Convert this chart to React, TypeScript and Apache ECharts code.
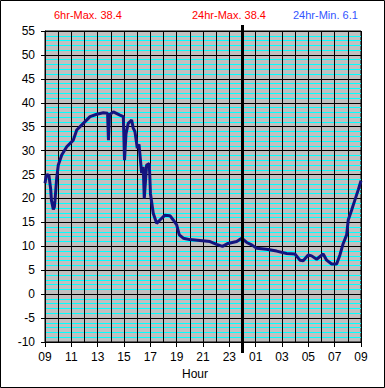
import React, { useEffect, useRef } from "react";
import * as echarts from "echarts";

// hours since 09:00
const hours = [
  0.0, 0.08, 0.17, 0.3, 0.43, 0.49, 0.63, 0.71, 0.76, 0.89, 1.01, 1.27, 1.65, 2.15, 2.41, 2.91,
  3.42, 3.93, 4.43, 4.75, 4.82, 4.9, 5.19, 5.69, 5.95, 6.04, 6.15, 6.32, 6.58, 6.7, 6.83, 7.01,
  7.14, 7.34, 7.46, 7.54, 7.72, 7.92, 8.01, 8.22, 8.48, 8.73, 9.11, 9.49, 9.74, 10.0, 10.2, 10.5,
  11.0, 11.77, 12.53, 13.04, 13.48, 13.9, 14.56, 14.94, 15.32, 15.7, 16.07, 16.83, 17.59, 18.35,
  18.98, 19.36, 19.61, 19.99, 20.25, 20.63, 21.13, 21.39, 21.77, 22.15, 22.4, 22.65, 22.91, 23.03,
  23.29, 23.54, 23.79, 24.0,
];
const temps = [
  23.2, 24.5, 25.0, 24.8, 22.0, 19.6, 17.7, 18.2, 19.6, 24.3, 27.0, 29.1, 30.8, 32.2, 34.3, 35.7,
  37.1, 37.6, 37.9, 37.8, 32.2, 37.5, 38.1, 37.4, 37.1, 28.0, 33.5, 35.7, 36.4, 34.7, 34.0, 30.5,
  31.3, 25.3, 26.6, 20.0, 27.0, 27.3, 21.0, 16.9, 14.8, 15.5, 16.5, 16.4, 15.5, 14.5, 12.4, 11.7,
  11.4, 11.2, 11.0, 10.4, 10.0, 10.6, 11.0, 11.7, 10.8, 10.3, 9.6, 9.4, 9.0, 8.5,
  8.4, 7.1, 7.0, 8.2, 8.0, 7.3, 8.4, 7.1, 6.3, 6.3, 8.2, 10.6, 12.4, 15.5,
  17.6, 19.7, 21.8, 23.7,
];
const max6hr = "38.4";
const max24hr = "38.4";
const min24hr = "6.1";
const midnightHour = 15;
const axisName = "Hour";

const FONT = "Arial, 'Liberation Sans', sans-serif";

export default function App() {
  const ref = useRef<HTMLDivElement>(null);
  useEffect(() => {
    document.body.style.margin = "0";
    const chart = echarts.init(ref.current!, null, { renderer: "svg" });
    const data = hours.map((h, i) => [h, temps[i]]);
    chart.setOption({
      animation: false,
      backgroundColor: "#ffffff",
      grid: {
        left: 45,
        right: 24,
        top: 31,
        bottom: 46,
        show: true,
        backgroundColor: "#c0c0c0",
        borderColor: "#000",
        borderWidth: 1,
      },
      xAxis: {
        type: "value",
        min: 0,
        max: 24,
        interval: 2,
        axisLine: { show: true, onZero: false, lineStyle: { color: "#000" } },
        axisTick: { show: true, length: 5, lineStyle: { color: "#000" } },
        axisLabel: {
          color: "#000",
          fontFamily: FONT,
          fontSize: 12,
          margin: 9,
          formatter: (v: number) => String((9 + v) % 24).padStart(2, "0"),
        },
        splitLine: { show: true, lineStyle: { color: "#000", width: 1 } },
        minorTick: { show: false, splitNumber: 2 },
        minorSplitLine: { show: true, lineStyle: { color: "#000", width: 1 } },
      },
      yAxis: {
        type: "value",
        min: -10,
        max: 55,
        interval: 5,
        axisLine: { show: true, onZero: false, lineStyle: { color: "#000" } },
        axisTick: { show: true, length: 4, lineStyle: { color: "#000" } },
        axisLabel: { color: "#000", fontFamily: FONT, fontSize: 12, margin: 10 },
        splitLine: { show: true, lineStyle: { color: "#000", width: 1 } },
        minorTick: { show: false, splitNumber: 5 },
        minorSplitLine: { show: true, lineStyle: { color: "#00ffff", width: 1 } },
      },
      series: [
        {
          type: "line",
          data,
          showSymbol: false,
          symbol: "none",
          lineStyle: { color: "#14147f", width: 3 },
          z: 5,
        },
      ],
    });
    const mx = chart.convertToPixel({ xAxisIndex: 0 }, midnightHour) as number;
    chart.setOption({
      graphic: [
        {
          type: "rect",
          shape: { x: 0.5, y: 0.5, width: 384, height: 387 },
          style: { fill: "none", stroke: "#000", lineWidth: 1 },
          silent: true,
        },
        {
          type: "line",
          shape: { x1: mx, y1: 25, x2: mx, y2: 353 },
          style: { stroke: "#000", lineWidth: 3 },
          z: 10,
        },
        {
          type: "text",
          x: 54,
          y: 15,
          style: { text: `6hr-Max. ${max6hr}`, fill: "#ff0000", font: `11px ${FONT}`, textVerticalAlign: "middle" },
        },
        {
          type: "text",
          x: 192,
          y: 15,
          style: { text: `24hr-Max. ${max24hr}`, fill: "#ff0000", font: `11px ${FONT}`, textVerticalAlign: "middle" },
        },
        {
          type: "text",
          x: 293,
          y: 15,
          style: { text: `24hr-Min. ${min24hr}`, fill: "#3355ff", font: `11px ${FONT}`, textVerticalAlign: "middle" },
        },
        {
          type: "text",
          x: 195,
          y: 374,
          style: { text: axisName, fill: "#000", font: `12px ${FONT}`, textAlign: "center", textVerticalAlign: "middle" },
        },
      ],
    });
    return () => chart.dispose();
  }, []);
  return <div ref={ref} style={{ width: 385, height: 388 }} />;
}
